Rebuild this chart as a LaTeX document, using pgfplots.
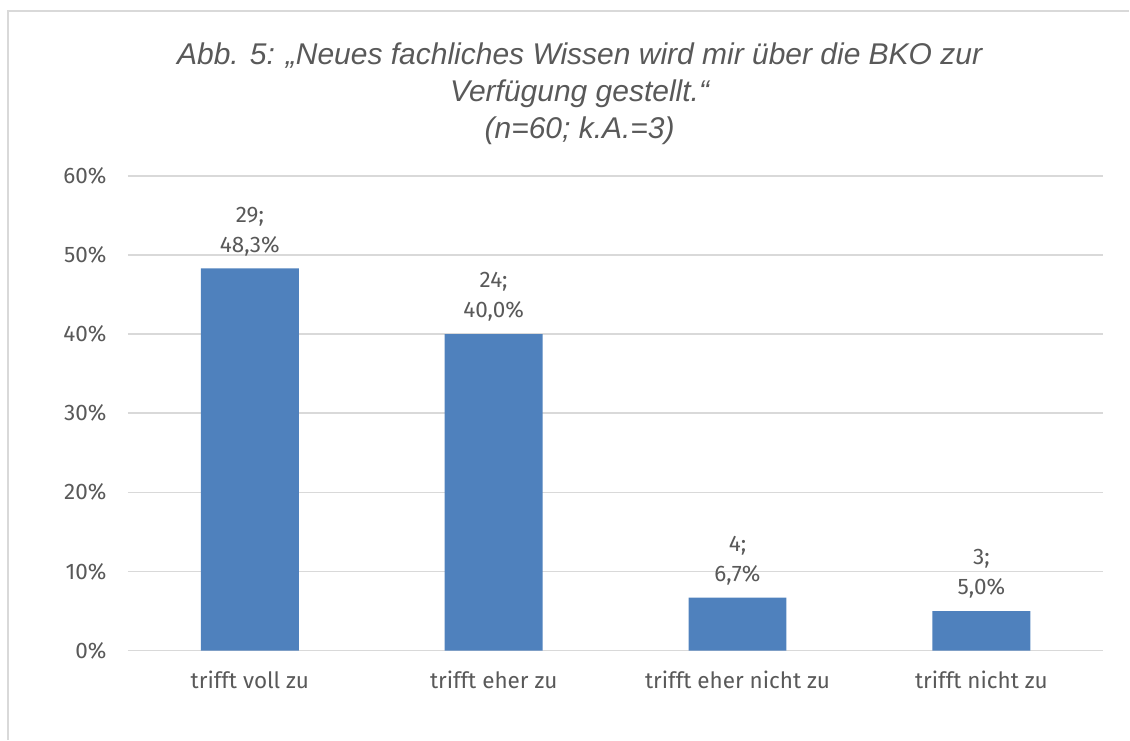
\documentclass[border=0pt]{standalone}
\usepackage{pgfplots}
\usepackage{pgfplotstable}
\pgfplotsset{compat=1.18}
\usepackage{fontspec}
\setmainfont{Fira Sans}
\newfontfamily\titlefont{Liberation Sans}
\definecolor{txt}{HTML}{595959}
\definecolor{grd}{HTML}{D9D9D9}
\definecolor{bar}{HTML}{4F81BD}
\pgfplotstableread{
x y n
0 48.3 29
1 40.0 24
2 6.7 4
3 5.0 3
}\datatab
\begin{document}
\begin{tikzpicture}[x=1pt,y=1pt]
\path (0,0) rectangle (1130,740);
\draw[grd,line width=1.5pt] (8,0) -- (8,729) -- (1130,729);
\node[text=txt,font=\titlefont\itshape\fontsize{30}{37}\selectfont,align=center] at (580,646) {Abb. 5: „Neues fachliches Wissen wird mir über die BKO zur\\Verfügung gestellt.“\\(n=60; k.A.=3)};
\begin{axis}[
  at={(128pt,89pt)}, anchor=south west,
  scale only axis, width=976pt, height=475pt,
  xmin=-0.5, xmax=3.5, ymin=0, ymax=60,
  xtick={0,1,2,3},
  xticklabels={trifft voll zu,trifft eher zu,trifft eher nicht zu,trifft nicht zu},
  ytick={0,10,20,30,40,50,60},
  yticklabel={\pgfmathprintnumber{\tick}\%},
  /pgf/number format/assume math mode=true,
  ticklabel style={text=txt,font=\fontsize{22.5}{26}\selectfont},
  yticklabel style={xshift=-18pt},
  xticklabel style={yshift=-17pt},
  major tick length=0pt,
  ymajorgrids, grid style={grd,line width=1.5pt},
  axis line style={draw=none},
  ybar, bar width=98pt,
  point meta=\thisrow{n},
  visualization depends on={\thisrow{y} \as \yval},
  nodes near coords={\pgfmathprintnumber[fixed,precision=0]{\pgfplotspointmeta};\\\pgfmathprintnumber[fixed,fixed zerofill,precision=1,use comma]{\yval}\%},
  every node near coord/.append style={text=txt,font=\fontsize{22.5}{30}\selectfont,align=center,yshift=9pt},
  clip=false,
]
\addplot[fill=bar,draw=none] table[x=x,y=y] {\datatab};
\end{axis}
\end{tikzpicture}
\end{document}
